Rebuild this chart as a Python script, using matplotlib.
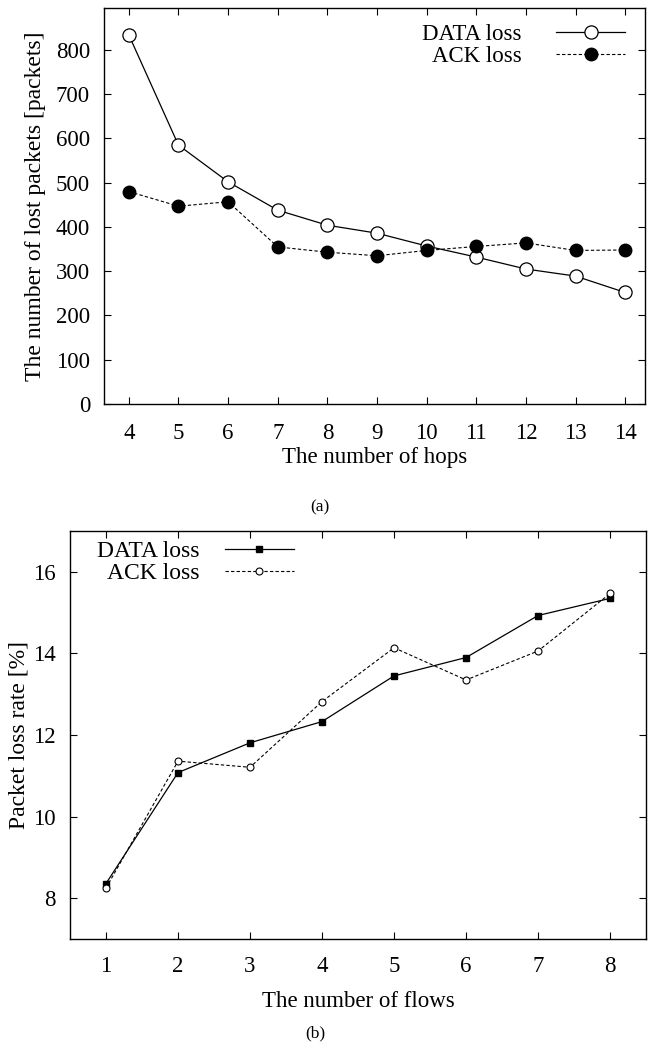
import matplotlib.pyplot as plt

plt.rcParams['font.family'] = ['Liberation Serif', 'DejaVu Serif']

# (a) lost packets vs hops
hops = [4, 5, 6, 7, 8, 9, 10, 11, 12, 13, 14]
data_loss_a = [834, 585, 502, 438, 404, 386, 357, 332, 305, 289, 252]
ack_loss_a = [480, 447, 457, 355, 343, 335, 347, 356, 364, 347, 348]

# (b) packet loss rate vs flows
flows = [1, 2, 3, 4, 5, 6, 7, 8]
data_loss_b = [8.36, 11.08, 11.81, 12.33, 13.45, 13.90, 14.93, 15.35]
ack_loss_b = [8.25, 11.36, 11.21, 12.82, 14.14, 13.35, 14.06, 15.47]

fig = plt.figure(figsize=(6.48, 10.45), dpi=100)
fs = 16.5

def style(ax, pad):
    ax.tick_params(direction='in', top=True, right=True, labelsize=fs,
                   length=5, width=0.8, pad=pad)
    for s in ax.spines.values():
        s.set_linewidth(1.0)

# top panel
ax1 = fig.add_axes([0.1605, 0.6134, 0.835, 0.379])
ax1.plot(hops, data_loss_a, '-', color='black', lw=0.9, marker='o',
         ms=9.5, mfc='white', mec='black', mew=0.9, label='DATA loss')
ax1.plot(hops, ack_loss_a, '--', color='black', lw=0.8, dashes=(3, 2), marker='o',
         ms=9, mfc='black', mec='black', label='ACK loss')
ax1.set_xlim(3.5, 14.4)
ax1.set_ylim(0, 895)
ax1.set_xticks(hops)
ax1.set_yticks(range(0, 900, 100))
style(ax1, 10)
ax1.tick_params(axis='x', pad=14)
ax1.set_xlabel('The number of hops', fontsize=fs, labelpad=2)
ax1.set_ylabel('The number of lost packets [packets]', fontsize=17, labelpad=7)
ax1.legend(loc='upper right', bbox_to_anchor=(0.98, 0.982), frameon=False,
           markerfirst=False, fontsize=fs, handlelength=3.0, numpoints=1,
           labelspacing=0.05, borderaxespad=0, handletextpad=1.5)

# bottom panel
ax2 = fig.add_axes([0.108, 0.1014, 0.889, 0.3904])
ax2.plot(flows, data_loss_b, '-', color='black', lw=0.9, marker='s',
         ms=4.5, mfc='black', mec='black', label='DATA loss')
ax2.plot(flows, ack_loss_b, '--', color='black', lw=0.8, dashes=(3, 2), marker='o',
         ms=5, mfc='white', mec='black', mew=0.8, label='ACK loss')
ax2.set_xlim(0.5, 8.5)
ax2.set_ylim(7, 17)
ax2.set_xticks(flows)
ax2.set_yticks([8, 10, 12, 14, 16])
style(ax2, 10.5)
ax2.tick_params(axis='x', pad=12)
ax2.set_xlabel('The number of flows', fontsize=fs, labelpad=10)
ax2.set_ylabel('Packet loss rate [%]', fontsize=17, labelpad=2)
ax2.legend(loc='upper left', bbox_to_anchor=(0.03, 1.0), frameon=False,
           markerfirst=False, fontsize=17, handlelength=2.9, numpoints=1,
           labelspacing=0.02, borderaxespad=0, handletextpad=1.1)

fig.text(320 / 648, 1 - 507 / 1045, '(a)', ha='center', va='center', fontsize=12.5)
fig.text(315 / 648, 1 - 1033 / 1045, '(b)', ha='center', va='center', fontsize=12.5)

fig.savefig('out.png', dpi=100)
